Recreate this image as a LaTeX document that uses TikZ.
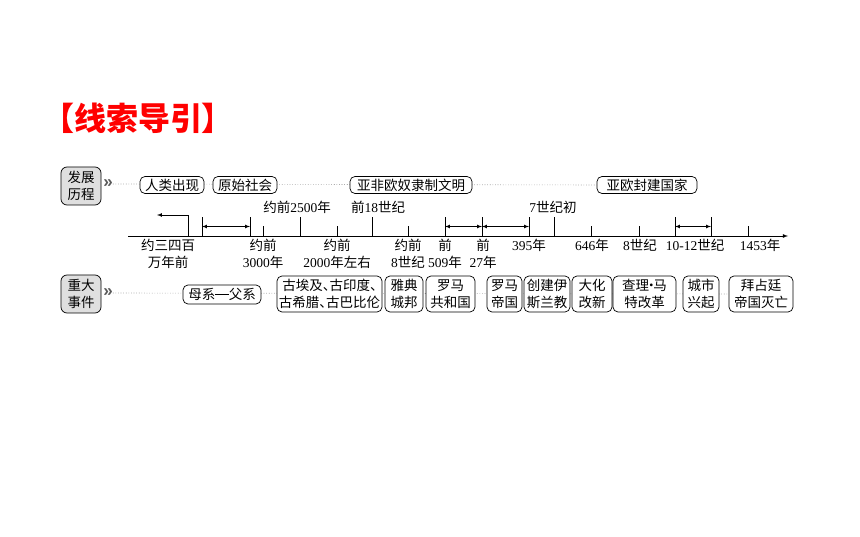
\documentclass[tikz,border=0pt]{standalone}
\usepackage{fontspec}
\setmainfont{Liberation Serif}
\newfontfamily\cjk{Noto Sans CJK SC}
\newfontfamily\chev{Liberation Sans}
\newcommand\zh[1]{{\cjk #1}}
\usetikzlibrary{arrows,backgrounds}

\begin{document}
\begin{tikzpicture}[x=1pt,y=-1pt,>=latex,
        box/.style = {draw, rounded corners=5pt, fill=white, line width=0.7pt, inner xsep=1pt, inner ysep=1.5pt, align=center, font=\cjk\fontsize{13.5}{17}\selectfont},
        tag/.style = {box, fill=gray!25, rounded corners=6pt, minimum width=40pt, minimum height=38pt},
        lab/.style = {inner sep=0pt, align=center, font=\fontsize{13.5}{17}\selectfont},
        guide/.style = {gray, dotted, line width=0.6pt},
        chv/.style = {inner sep=0pt, text=gray!70!black, font=\chev\bfseries\fontsize{17}{17}\selectfont}]
        \useasboundingbox (0,0) rectangle (860,537);

        % title
        \node[text=red, font=\cjk\bfseries\fontsize{32}{32}\selectfont] (0) at (138,118) {【线索导引】};

        % top row
        \node[tag] (1) at (81,186) {发展\\历程};
        \node[chv] (g1) at (108,184) {»};
        \node[box, minimum width=64pt, minimum height=17pt] (b1) at (172,185) {人类出现};
        \node[box, minimum width=64pt, minimum height=17pt] (b2) at (245,185) {原始社会};
        \node[box, minimum width=122pt, minimum height=17pt] (b3) at (411,185) {亚非欧奴隶制文明};
        \node[box, minimum width=100pt, minimum height=17pt] (b4) at (647,185) {亚欧封建国家};

        % bottom row
        \node[tag] (2) at (81,294) {重大\\事件};
        \node[chv] (g2) at (108,293) {»};
        \node[box, minimum width=78pt, minimum height=19pt] (e1) at (222,294.5) {母系\rule[0.36em]{1em}{0.6pt}父系};
        \node[box, minimum width=105pt, minimum height=36pt] (e2) at (329.5,294) {古埃及\makebox[.5em][l]{、}古印度\makebox[.5em][l]{、}\\古希腊\makebox[.5em][l]{、}古巴比伦};
        \node[box, minimum width=38pt, minimum height=36pt] (e3) at (404,294) {雅典\\城邦};
        \node[box, minimum width=49pt, minimum height=36pt] (e4) at (450.5,294) {罗马\\共和国};
        \node[box, minimum width=35pt, minimum height=36pt] (e5) at (504.5,294) {罗马\\帝国};
        \node[box, minimum width=46pt, minimum height=36pt] (e6) at (547,294) {创建伊\\斯兰教};
        \node[box, minimum width=40pt, minimum height=36pt] (e7) at (592,294) {大化\\改新};
        \node[box, minimum width=63pt, minimum height=36pt] (e8) at (644.5,294) {查理\makebox[.3em]{·}马\\特改革};
        \node[box, minimum width=36pt, minimum height=36pt] (e9) at (701,294) {城市\\兴起};
        \node[box, minimum width=64pt, minimum height=36pt] (e10) at (761,294) {拜占廷\\帝国灭亡};

        \begin{pgfonlayer}{background}
        \draw[guide] (g1.east) -- (b4.west);
        \draw[guide] (g2.east) -- (e10.west);
        \end{pgfonlayer}

        % time axis
        \coordinate (s) at (128,236);
        \coordinate (e) at (788,236);
        \draw[-latex, line width=0.8pt] (s) -- (e);

        \foreach \x/\n in {202/1,250/2,300/3,372/4,445/5,482/6,529/7,554/8,675/9,711/10} {
            \draw[line width=0.7pt] (\x,236) -- (\x,217);
            \coordinate (m\n) at (\x,226.5);
        }
        \foreach \x in {263,337,408,591,639,748}
            \draw[line width=0.7pt] (\x,236) -- (\x,226);

        \coordinate (t0) at (188,236);
        \coordinate (k0) at (157,215);
        \draw[->, line width=0.7pt] (t0) |- (k0);
        \draw[<->, line width=0.7pt] (m1) -- (m2);
        \draw[<->, line width=0.7pt] (m5) -- (m6);
        \draw[<->, line width=0.7pt] (m6) -- (m7);
        \draw[<->, line width=0.7pt] (m9) -- (m10);

        % dates above
        \node[lab] (u1) at (297,207) {\zh{约前}2500\zh{年}};
        \node[lab] (u2) at (378,207) {\zh{前}18\zh{世纪}};
        \node[lab] (u3) at (553,207) {7\zh{世纪初}};

        % dates below
        \node[lab, anchor=north] (l0) at (168,239) {\zh{约三四百}\\\zh{万年前}};
        \node[lab, anchor=north] (l1) at (263,239) {\zh{约前}\\3000\zh{年}};
        \node[lab, anchor=north] (l2) at (337,239) {\zh{约前}\\2000\zh{年左右}};
        \node[lab, anchor=north] (l3) at (408,239) {\zh{约前}\\8\zh{世纪}};
        \node[lab, anchor=north] (l4) at (445,239) {\zh{前}\\509\zh{年}};
        \node[lab, anchor=north] (l5) at (483,239) {\zh{前}\\27\zh{年}};
        \node[lab, anchor=north] (l6) at (529,239) {395\zh{年}};
        \node[lab, anchor=north] (l7) at (592,239) {646\zh{年}};
        \node[lab, anchor=north] (l8) at (640,239) {8\zh{世纪}};
        \node[lab, anchor=north] (l9) at (695,239) {10-12\zh{世纪}};
        \node[lab, anchor=north] (l10) at (760,239) {1453\zh{年}};
\end{tikzpicture}
\end{document}
